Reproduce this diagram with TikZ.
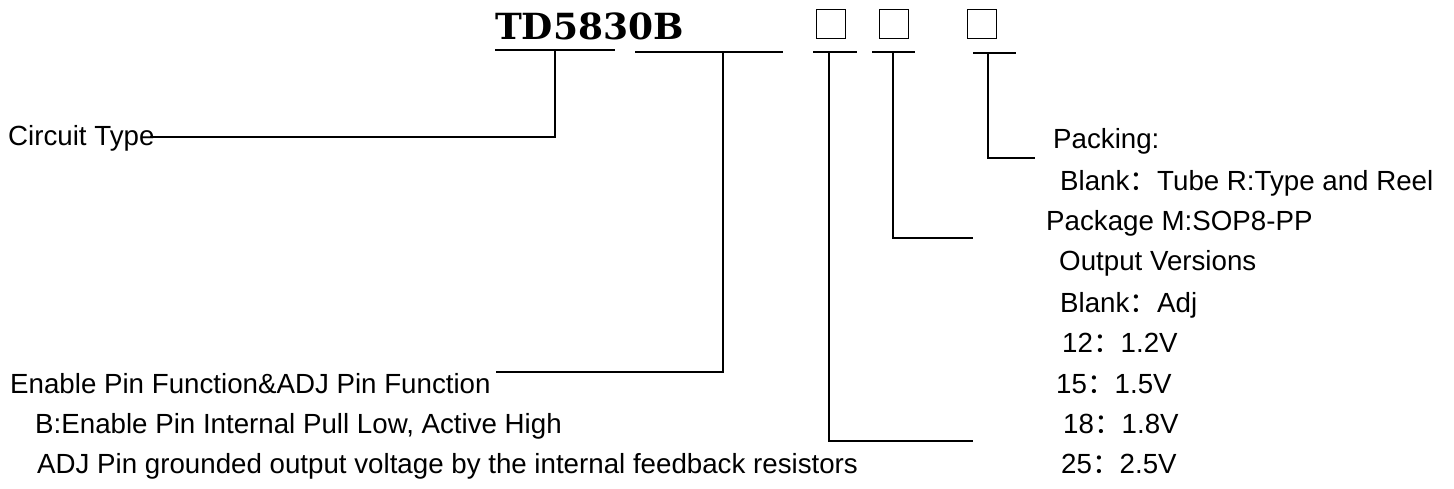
\documentclass[tikz,border=0pt]{standalone}
\usepackage{fontspec}
\setmainfont{Liberation Sans}
\newfontfamily\cjk{Noto Sans CJK SC}
\newfontfamily\pnfont{DejaVu Serif}
\usetikzlibrary{positioning}

\newcommand{\fwc}{{\cjk ：}}

\begin{document}
\begin{tikzpicture}[x=1pt,y=-1pt,
  lbl/.style={anchor=base west,inner sep=0pt,font=\fontsize{27.7}{30}\selectfont},
  wire/.style={line width=1.8pt},
  slot/.style={draw,line width=1.8pt,minimum width=29pt,minimum height=29pt,inner sep=0pt}]
\useasboundingbox (0,0) rectangle (1454,488);

% part number and the blank places
\node[anchor=base west,inner sep=0pt,font=\pnfont\bfseries\fontsize{36}{40}\selectfont] (pn) at (495,39) {TD5830B};
\node[slot] (box1) at (831,24) {};
\node[slot] (box2) at (894,24) {};
\node[slot] (box3) at (982,24) {};

% texts
\node[lbl] (ct) at (8,145) {Circuit Type};
\node[lbl] (en) at (10,393) {Enable Pin Function\&ADJ Pin Function};
\node[lbl] (enb) at (35,433) {B:Enable Pin Internal Pull Low, Active High};
\node[lbl] (enadj) at (37,473) {ADJ Pin grounded output voltage by the internal feedback resistors};

\node[lbl] (pk) at (1053,148) {Packing:};
\node[lbl] (pka) at (1060,190) {Blank\fwc Tube R:Type and Reel};
\node[lbl] (pg) at (1046,230) {Package M:SOP8-PP};
\node[lbl] (ov) at (1059,270) {Output Versions};
\node[lbl] (ova) at (1060,312) {Blank\fwc Adj};
\node[lbl] (ov12) at (1062,352) {12\fwc 1.2V};
\node[lbl] (ov15) at (1056,393) {15\fwc 1.5V};
\node[lbl] (ov18) at (1063,433) {18\fwc 1.8V};
\node[lbl] (ov25) at (1061,473) {25\fwc 2.5V};

% leader points
\coordinate (u1a) at (495,50);  \coordinate (u1b) at (615,50);  \coordinate (s1) at (555,50);
\coordinate (u2a) at (635,52);  \coordinate (u2b) at (783,52);  \coordinate (s2) at (723,52);
\coordinate (u3a) at (813,52);  \coordinate (u3b) at (857,52);  \coordinate (s3) at (829,52);
\coordinate (u4a) at (872,52);  \coordinate (u4b) at (915,52);  \coordinate (s4) at (893,52);
\coordinate (u5a) at (973,53);  \coordinate (u5b) at (1016,53); \coordinate (s5) at (988,53);
\coordinate (e1) at (150,137);
\coordinate (e2) at (496,372);
\coordinate (e3) at (973,441);
\coordinate (e4) at (973,238);
\coordinate (e5) at (1035,158);

% leaders
\draw[wire] (u1a) -- (u1b);
\draw[wire] (s1) |- (e1);
\draw[wire] (u2a) -- (u2b);
\draw[wire] (s2) |- (e2);
\draw[wire] (u3a) -- (u3b);
\draw[wire] (s3) |- (e3);
\draw[wire] (u4a) -- (u4b);
\draw[wire] (s4) |- (e4);
\draw[wire] (u5a) -- (u5b);
\draw[wire] (s5) |- (e5);
\end{tikzpicture}
\end{document}
